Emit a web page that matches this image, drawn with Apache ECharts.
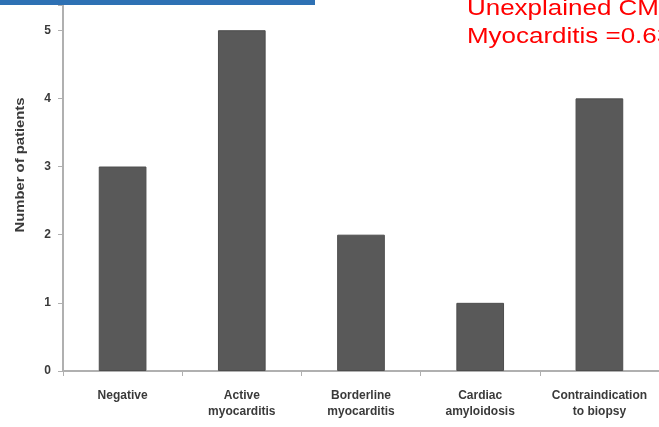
<!DOCTYPE html>
<html><head><meta charset="utf-8">
<script src="https://cdn.jsdelivr.net/npm/echarts@6/dist/echarts.min.js"></script>
<style>html,body{margin:0;padding:0;background:#fff}#c{width:659px;height:427px}</style>
</head><body><div id="c"></div>
<script>
var categories = ['Negative', 'Active\nmyocarditis', 'Borderline\nmyocarditis', 'Cardiac\namyloidosis', 'Contraindication\nto biopsy'];
var patients = [3, 5, 2, 1, 4];
var yTicks = [0, 1, 2, 3, 4, 5];
var yTitle = 'Number of patients';
var annotLines = ['Unexplained CMP', 'Myocarditis =0.63'];

var chart = echarts.init(document.getElementById('c'));
chart.setOption({
  animation: false,
  backgroundColor: '#fff',
  grid: { left: 63, top: 5, width: 597, bottom: 56, containLabel: false },
  xAxis: {
    type: 'category', data: categories,
    axisLine: { lineStyle: { color: '#b0b0b0', width: 2 } },
    axisTick: { show: true, interval: 0, length: 5, lineStyle: { color: '#b0b0b0' } },
    axisLabel: { interval: 0, hideOverlap: false, color: '#3a3a3a', fontWeight: 'bold', fontSize: 12, fontFamily: 'Liberation Sans', margin: 17, lineHeight: 16 }
  },
  yAxis: {
    type: 'value', min: 0, max: 5.37, interval: 1,
    axisLine: { show: true, lineStyle: { color: '#b0b0b0', width: 2 } },
    axisTick: { show: true, length: 5, lineStyle: { color: '#b0b0b0' } },
    splitLine: { show: false },
    axisLabel: { color: '#3a3a3a', fontWeight: 'bold', fontSize: 12, fontFamily: 'Liberation Sans', margin: 12,
      formatter: function (v) { return yTicks.indexOf(v) >= 0 ? String(v) : ''; } }
  },
  series: [{
    type: 'bar', data: patients, barWidth: '40%',
    itemStyle: { color: '#595959', borderColor: '#4d4d4d', borderWidth: 1 }
  }],
  graphic: [
    { type: 'rect', left: 0, top: 0, z: 10, shape: { width: 315, height: 5 }, style: { fill: '#2e71b4' } },
    { type: 'text', x: 20, y: 165, rotation: Math.PI / 2, scaleX: 1.14, style: { text: yTitle, fill: '#3a3a3a', font: 'bold 13px "Liberation Sans"', align: 'center', verticalAlign: 'middle' } },
    { type: 'text', x: 467, y: 19.5, scaleX: 1.18, style: { text: annotLines[0], fill: '#ff0000', font: '22px "Liberation Sans"', verticalAlign: 'bottom' } },
    { type: 'text', x: 467, y: 47.5, scaleX: 1.18, style: { text: annotLines[1], fill: '#ff0000', font: '22px "Liberation Sans"', verticalAlign: 'bottom' } }
  ]
});
</script></body></html>
